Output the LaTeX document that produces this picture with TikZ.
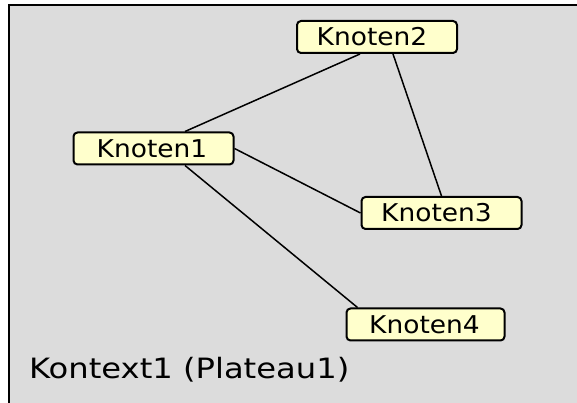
\documentclass[tikz,border=0pt]{standalone}
\usepackage{fontspec}
\setmainfont{DejaVu Sans}[FakeStretch=1.08]
\usetikzlibrary{calc}
\definecolor{bgcol}{HTML}{DCDCDC}
\definecolor{nodefill}{HTML}{FFFFCC}
\begin{document}
\begin{tikzpicture}[x=1pt,y=1pt,
  knoten/.style={draw=black, line width=2pt, fill=nodefill, rounded corners=4pt,
    minimum width=160pt, minimum height=32pt, inner sep=0pt,
    font=\fontsize{24.5}{28}\selectfont},
  edge/.style={line width=1.5pt, draw=black}]
\useasboundingbox (0,0) rectangle (577,403);
\begin{scope}
  \clip (0,0) rectangle (577,403);
  \draw[line width=2.8pt, fill=bgcol] (9,398) rectangle (620,-30);
\end{scope}
\node[knoten] (n1) at (153.5,254.5) {\hspace*{-3pt}Knoten1};
\node[knoten] (n2) at (377,366) {\hspace*{-10pt}Knoten2};
\node[knoten] (n3) at (441.5,190) {\hspace*{-10pt}Knoten3};
\node[knoten, minimum width=158pt] (n4) at (425.5,78.5) {\hspace*{-2pt}Knoten4};
\draw[edge] ($(n1.north)+(31.5,0)$) -- ($(n2.south)+(-17,0)$);
\draw[edge] ($(n2.south)+(16,0)$) -- (n3.north);
\draw[edge] (n1.east) -- (n3.west);
\draw[edge] ($(n1.south)+(31.5,0)$) -- ($(n4.north west)+(12,0)$);
\node[anchor=base west, inner sep=0pt, font=\fontsize{28}{32}\selectfont\addfontfeature{FakeStretch=1.15}] (ctx) at (29,24) {Kontext1 (Plateau1)};
\end{tikzpicture}
\end{document}
